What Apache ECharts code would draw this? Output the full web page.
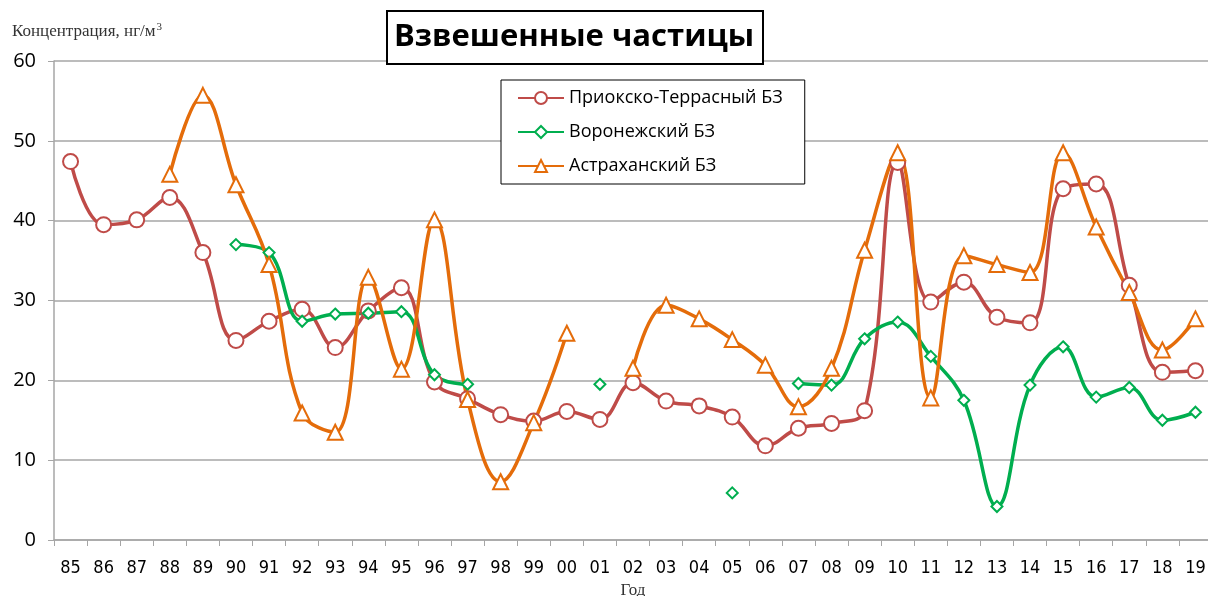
<!DOCTYPE html>
<html>
<head>
<meta charset="utf-8">
<script src="https://cdn.jsdelivr.net/npm/echarts@6/dist/echarts.min.js"></script>
<style>
  html, body { margin: 0; padding: 0; background: #fff; }
  #chart { width: 1208px; height: 596px; }
</style>
</head>
<body>
<div id="chart"></div>
<script>
    // годы наблюдений
    var years = ['85','86','87','88','89','90','91','92','93','94','95','96','97','98','99',
        '00','01','02','03','04','05','06','07','08','09','10','11','12','13','14','15','16','17','18','19'];

    var prioksko = [47.4, 39.5, 40.1, 42.9, 36.0, 25.0, 27.4, 28.9, 24.1, 28.7, 31.6, 19.8, 17.7, 15.7, 14.9,
        16.1, 15.1, 19.7, 17.4, 16.8, 15.4, 11.8, 14.0, 14.6, 16.2, 47.3, 29.8, 32.3, 27.9, 27.2, 44.0, 44.6, 31.9, 21.0, 21.2];

    var voronezh = [null, null, null, null, null, 37.0, 36.0, 27.4, 28.3, 28.4, 28.6, 20.7, 19.5, null, null,
        null, 19.5, null, null, null, 5.9, null, 19.6, 19.4, 25.2, 27.3, 23.0, 17.5, 4.2, 19.4, 24.2, 17.9, 19.1, 15.0, 16.0];

    var astrakhan = [null, null, null, 45.8, 55.7, 44.5, 34.5, 15.9, 13.5, 32.9, 21.4, 40.1, 17.6, 7.3, 14.7,
        25.9, null, 21.5, 29.4, 27.7, 25.1, 21.9, 16.7, 21.5, 36.3, 48.5, 17.8, 35.6, 34.5, 33.5, 48.5, 39.2, 31.0, 23.8, 27.7];

    var yTicks = [0, 10, 20, 30, 40, 50, 60];

    var gridColor = '#a6a6a6';

    function makeSeries(name, data, color, symbol, size) {
        return {
            name: name,
            type: 'line',
            data: data,
            smooth: 0.4,
            connectNulls: false,
            showAllSymbol: true,
            symbol: symbol,
            symbolSize: size,
            lineStyle: { width: 3.5, color: color },
            itemStyle: { color: '#fff', borderColor: color, borderWidth: 2 },
            emphasis: { disabled: true },
            z: 3
        };
    }

    var myChart = echarts.init(document.getElementById('chart'));
    var option = {
        animation: false,
        backgroundColor: '#fff',
        title: {
            text: 'Взвешенные частицы',
            left: 387,
            top: 11,
            padding: [11, 9, 11, 7],
            borderColor: '#000',
            borderWidth: 2,
            backgroundColor: '#fff',
            textStyle: {
                fontFamily: 'Open Sans',
                fontSize: 31,
                fontWeight: 'bold',
                color: '#000'
            }
        },
        legend: {
            orient: 'vertical',
            left: 501,
            top: 80,
            padding: [9, 22, 9, 16],
            itemGap: 16,
            itemWidth: 46,
            itemHeight: 15,
            borderColor: '#000',
            borderWidth: 1,
            backgroundColor: '#fff',
            textStyle: { fontFamily: 'Open Sans', fontSize: 18, color: '#000' },
            data: ['Приокско-Террасный БЗ', 'Воронежский БЗ', 'Астраханский БЗ']
        },
        grid: { left: 54, right: -4, top: 61, bottom: 56, outerBoundsMode: 'none' },
        xAxis: {
            type: 'category',
            data: years,
            boundaryGap: true,
            name: 'Год',
            nameLocation: 'middle',
            nameGap: 39,
            nameTextStyle: { fontFamily: 'Liberation Serif', fontSize: 17, color: '#333' },
            axisLine: { lineStyle: { color: gridColor, width: 1.5 } },
            axisTick: { show: true, length: 6, lineStyle: { color: gridColor } },
            axisLabel: { interval: 0, margin: 19, fontFamily: 'DejaVu Sans Condensed', fontSize: 18, color: '#000' },
            splitLine: { show: false }
        },
        yAxis: {
            type: 'value',
            min: yTicks[0],
            max: yTicks[yTicks.length - 1],
            interval: 10,
            name: '{a|Концентрация, нг/м}{s|3}',
            nameLocation: 'end',
            nameGap: 20,
            nameTextStyle: {
                align: 'left',
                padding: [0, 0, 0, -42],
                rich: {
                    a: { fontFamily: 'Liberation Serif', fontSize: 17, color: '#333' },
                    s: { fontFamily: 'Liberation Serif', fontSize: 11, color: '#333', verticalAlign: 'top', padding: [0, 0, 8, 1] }
                }
            },
            axisLine: { show: true, lineStyle: { color: gridColor, width: 1.5 } },
            axisTick: { show: true, length: 6, lineStyle: { color: gridColor } },
            axisLabel: { margin: 18, fontFamily: 'Open Sans', fontSize: 20, color: '#000' },
            splitLine: { lineStyle: { color: gridColor, width: 1.5 } }
        },
        series: [
            makeSeries('Приокско-Террасный БЗ', prioksko, '#bf4b48', 'circle', 15),
            makeSeries('Воронежский БЗ', voronezh, '#00ae4f', 'diamond', 11),
            makeSeries('Астраханский БЗ', astrakhan, '#e46c0a', 'triangle', 15)
        ]
    };
    myChart.setOption(option);
</script>
</body>
</html>
